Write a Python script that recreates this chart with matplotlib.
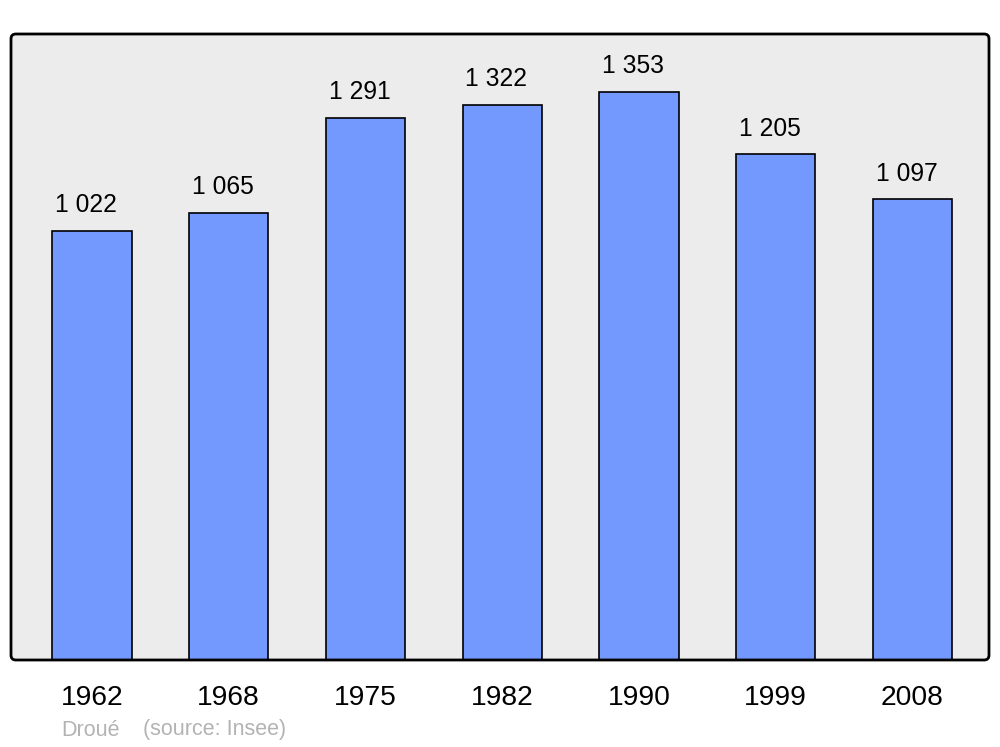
import matplotlib
matplotlib.use("Agg")
import matplotlib.pyplot as plt
from matplotlib.patches import FancyBboxPatch

years = ["1962", "1968", "1975", "1982", "1990", "1999", "2008"]
population = [1022, 1065, 1291, 1322, 1353, 1205, 1097]
value_labels = ["1 022", "1 065", "1 291", "1 322", "1 353", "1 205", "1 097"]
commune = "Droué"
source = "(source: Insee)"

plt.rcParams['font.family'] = ['Liberation Sans', 'DejaVu Sans']

W, H = 1000, 747
fig = plt.figure(figsize=(W / 100, H / 100), dpi=100)
ax_l, ax_r, ax_t, ax_b = 11, 989, 34, 660
ax = fig.add_axes([ax_l / W, 1 - ax_b / H, (ax_r - ax_l) / W, (ax_b - ax_t) / H])
ax.set_facecolor('#ececec')
for s in ax.spines.values():
    s.set_visible(False)

x = list(range(len(years)))
ax.bar(x, population, width=0.58, color='#7399ff', edgecolor='black',
       linewidth=1.2, zorder=2)
ax.set_xlim(-0.592, 6.56)
ax.set_ylim(0, 1491)

for xi, v, lab in zip(x, population, value_labels):
    ax.annotate(lab, (xi, v), xytext=(-4.3, 13.3), textcoords='offset points',
                ha='center', va='baseline', fontsize=17.7, color='black')

ax.set_xticks(x)
ax.set_xticklabels(years, fontsize=20.3)
ax.tick_params(axis='x', length=0, pad=18)
ax.set_yticks([])

aspect = (ax_r - ax_l) / (ax_b - ax_t)
frame = FancyBboxPatch((0, 0), 1, 1, boxstyle='round,pad=0,rounding_size=0.005',
                       mutation_aspect=aspect, transform=ax.transAxes,
                       fill=False, edgecolor='black', linewidth=2.0,
                       clip_on=False, zorder=5)
ax.add_patch(frame)

fig.text(61 / W, 1 - 730 / H, commune, fontsize=15.5, color='#b3b3b3',
         ha='left', va='center')
fig.text(143 / W, 1 - 730 / H, source, fontsize=15.5, color='#b3b3b3',
         ha='left', va='center')

fig.savefig('out.png', dpi=100, facecolor='white')
